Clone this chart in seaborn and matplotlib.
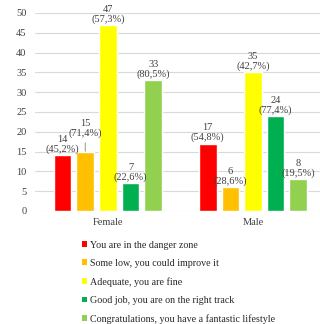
import matplotlib
matplotlib.use("Agg")
import matplotlib.pyplot as plt
import seaborn as sns
import pandas as pd
from matplotlib.patches import Patch

genders = ["Female", "Male"]
levels = ["You are in the danger zone",
          "Some low, you could improve it",
          "Adequate, you are fine",
          "Good job, you are on the right track",
          "Congratulations, you have a fantastic lifestyle"]
female_vals = [14, 15, 47, 7, 33]
male_vals = [17, 6, 35, 24, 8]
female_pct = ["45,2%", "71,4%", "57,3%", "22,6%", "80,5%"]
male_pct = ["54,8%", "28,6%", "42,7%", "77,4%", "19,5%"]
colors = ["#FF0000", "#FFC000", "#FFFF00", "#00B050", "#92D050"]

rows = []
for g, vals, pcts in [("Female", female_vals, female_pct), ("Male", male_vals, male_pct)]:
    for lv, v, p in zip(levels, vals, pcts):
        rows.append({"gender": g, "level": lv, "value": v, "pct": p})
df = pd.DataFrame(rows)

sns.set_theme(style="white")
plt.rcParams["font.family"] = ["Liberation Serif", "DejaVu Serif"]

fig = plt.figure(figsize=(3.2, 3.24), dpi=100)
ax = fig.add_axes([0.109, 0.349, 0.891, 0.611])
sns.barplot(data=df, x="gender", y="value", hue="level", hue_order=levels,
            order=genders, palette=colors, width=0.78, gap=0.22,
            legend=False, ax=ax, saturation=1)

ax.set_ylim(0, 50)
ax.set_yticks(range(0, 51, 5))
ax.set_xlim(-0.503, 1.462)
ax.grid(axis="y", color="#D9D9D9", linewidth=0.8)
ax.set_axisbelow(True)
for s in ax.spines.values():
    s.set_visible(False)
ax.set_xlabel("")
ax.set_ylabel("")
ax.tick_params(axis="both", length=0, labelsize=7.5, colors="#404040")
ax.tick_params(axis="y", pad=6)
ax.tick_params(axis="x", pad=5)

# labels
for hi, cont in enumerate(ax.containers):
    for gi, bar in enumerate(cont):
        sub = df[(df.gender == genders[gi]) & (df.level == levels[hi])].iloc[0]
        x = bar.get_x() + bar.get_width() / 2
        h = bar.get_height()
        txt = f"{sub.value}\n({sub.pct})"
        if gi == 0 and hi == 1:
            ax.annotate(txt, xy=(x, h + 0.1), xytext=(x, h + 3.4), ha="center", va="bottom",
                        fontsize=7.5, color="#404040", linespacing=1.05,
                        arrowprops=dict(arrowstyle="-", color="#808080", lw=0.6,
                                        shrinkA=1, shrinkB=0))
        else:
            ax.text(x, h + 0.3, txt, ha="center", va="bottom", fontsize=7.5,
                    color="#404040", linespacing=1.05)

handles = [Patch(facecolor=c, edgecolor="none") for c in colors]
fig.legend(handles, levels, loc="upper left", bbox_to_anchor=(0.255, 0.257),
           frameon=False, fontsize=7.2, handlelength=0.52, handleheight=0.52,
           handletextpad=0.3, labelspacing=0.92, borderaxespad=0, borderpad=0)

fig.savefig("out.png", dpi=100)
